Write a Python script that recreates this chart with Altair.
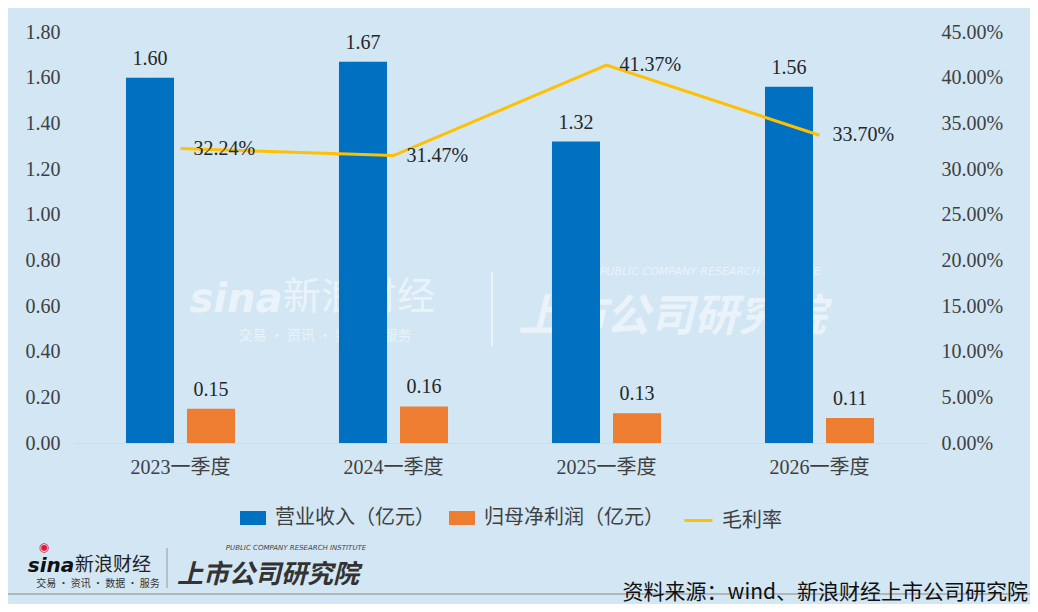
import altair as alt
import pandas as pd

# ---- datos ----
trimestres = ["2023一季度", "2024一季度", "2025一季度", "2026一季度"]
ingresos = [1.60, 1.67, 1.32, 1.56]          # 营业收入（亿元）
utilidad = [0.15, 0.16, 0.13, 0.11]          # 归母净利润（亿元）
margen = [0.3224, 0.3147, 0.4137, 0.3370]    # 毛利率
series_barras = ["营业收入（亿元）", "归母净利润（亿元）"]
ticks_izq = [0.0, 0.2, 0.4, 0.6, 0.8, 1.0, 1.2, 1.4, 1.6, 1.8]
ticks_der = [0.0, 0.05, 0.10, 0.15, 0.20, 0.25, 0.30, 0.35, 0.40, 0.45]

FUENTE_NUM = "'Liberation Serif', 'Noto Sans CJK SC'"
FUENTE_CJK = "'Noto Sans CJK SC'"
FONDO = "#D2E6F4"

df_barras = pd.DataFrame({
    "trimestre": trimestres * 2,
    "serie": [series_barras[0]] * 4 + [series_barras[1]] * 4,
    "valor": ingresos + utilidad,
})
df_linea = pd.DataFrame({
    "trimestre": trimestres,
    "serie": ["毛利率"] * 4,
    "margen": margen,
})

x_enc = alt.X(
    "trimestre:N", sort=trimestres, title=None,
    scale=alt.Scale(paddingInner=0, paddingOuter=0),
    axis=alt.Axis(labelFont=FUENTE_NUM, labelFontSize=20, labelColor="#404040",
                  domainColor="#D9D9D9", domainWidth=1, ticks=False,
                  labelPadding=14, labelAngle=0),
)
off_enc = alt.XOffset("serie:N", sort=series_barras,
                      scale=alt.Scale(paddingInner=0.213, paddingOuter=0.852))
y_izq = alt.Y(
    "valor:Q", title=None,
    scale=alt.Scale(domain=[0, 1.8], nice=False),
    axis=alt.Axis(values=ticks_izq, format=".2f", orient="left", grid=False,
                  domain=False, ticks=False, labelPadding=14,
                  labelFont=FUENTE_NUM, labelFontSize=20, labelColor="#404040"),
)
y_der = alt.Y(
    "margen:Q", title=None,
    scale=alt.Scale(domain=[0, 0.45], nice=False),
    axis=alt.Axis(values=ticks_der, format=".2%", orient="right", grid=False,
                  domain=False, ticks=False, labelPadding=15,
                  labelFont=FUENTE_NUM, labelFontSize=20, labelColor="#404040"),
)

barras = (
    alt.Chart(df_barras)
    .mark_bar()
    .encode(
        x=x_enc,
        xOffset=off_enc,
        y=y_izq,
        color=alt.Color(
            "serie:N",
            scale=alt.Scale(domain=series_barras, range=["#0070C0", "#ED7D31"]),
            legend=alt.Legend(
                title=None, orient="none", direction="horizontal",
                legendX=166, legendY=473,
                symbolType="M-1,-0.54L1,-0.54L1,0.54L-1,0.54Z", symbolSize=676,
                symbolStrokeWidth=0, labelOffset=9, columnPadding=14,
                labelFont=FUENTE_CJK, labelFontSize=20, labelColor="#404040",
                labelLimit=300,
            ),
        ),
    )
)
etiquetas_barras = (
    alt.Chart(df_barras)
    .mark_text(baseline="bottom", dy=-9, font=FUENTE_NUM, fontSize=20, color="#262626")
    .encode(x=x_enc, xOffset=off_enc, y=y_izq, text=alt.Text("valor:Q", format=".2f"))
)

linea = (
    alt.Chart(df_linea)
    .mark_line(strokeWidth=3)
    .encode(
        x=x_enc,
        y=y_der,
        stroke=alt.Stroke(
            "serie:N",
            scale=alt.Scale(domain=["毛利率"], range=["#FFC000"]),
            legend=alt.Legend(
                title=None, orient="none", direction="horizontal",
                legendX=609, legendY=473,
                symbolType="stroke", symbolSize=784, symbolStrokeWidth=3,
                labelOffset=8, labelFont=FUENTE_CJK, labelFontSize=20,
                labelColor="#404040",
            ),
        ),
    )
)
etiquetas_linea = (
    alt.Chart(df_linea)
    .mark_text(align="left", baseline="middle", dx=13, font=FUENTE_NUM,
               fontSize=20, color="#262626")
    .encode(x=x_enc, y=y_der, text=alt.Text("margen:Q", format=".2%"))
)


def texto(t, x, y, size, color, font=FUENTE_CJK, weight="normal", italic=False,
          opacity=1.0, align="center"):
    return (
        alt.Chart(pd.DataFrame({"t": [t]}))
        .mark_text(font=font, fontSize=size, color=color, fontWeight=weight,
                   fontStyle="italic" if italic else "normal", opacity=opacity,
                   align=align, baseline="middle")
        .encode(text="t:N", x=alt.value(x), y=alt.value(y))
    )


def regla(x, x2, y, y2, color, width=1, opacity=1.0):
    return (
        alt.Chart(pd.DataFrame({"a": [0]}))
        .mark_rule(color=color, strokeWidth=width, opacity=opacity)
        .encode(x=alt.value(x), x2=alt.value(x2), y=alt.value(y), y2=alt.value(y2))
    )


# marca de agua (detras de las barras)
marca = alt.layer(
    texto("sina", 162, 268, 40, "white", font="'DejaVu Sans'", weight="bold",
          italic=True, opacity=0.55),
    texto("新浪财经", 285, 266, 38, "white", opacity=0.55),
    texto("交易 · 资讯 · 数据 · 服务", 251, 304, 14, "white", opacity=0.55),
    regla(418, 418, 240, 314, "white", 2, 0.55),
    texto("PUBLIC COMPANY RESEARCH INSTITUTE", 636, 240, 11, "white",
          font="'DejaVu Sans'", italic=True, opacity=0.55),
    texto("上市公司研究院", 598, 286, 44, "white", weight="bold", italic=True,
          opacity=0.55),
)

# pie: logo, fuente y linea gris
pie = alt.layer(
    regla(-80, 960, 562, 562, "#A6A6A6", 1.5),
    texto("◉", -30, 515, 12, "#E6162D", font="'DejaVu Sans'"),
    texto("sina", -23, 534, 20, "#111111", font="'DejaVu Sans'", weight="bold",
          italic=True),
    texto("新浪财经", 39, 533, 19, "#222222"),
    texto("交易 · 资讯 · 数据 · 服务", 24, 552, 10, "#333333"),
    regla(93, 93, 516, 556, "#999999", 1),
    texto("PUBLIC COMPANY RESEARCH INSTITUTE", 222, 516, 7, "#444444",
          font="'DejaVu Sans'", italic=True),
    texto("上市公司研究院", 194, 543, 26, "#333333", weight="bold", italic=True),
    texto("资料来源：wind、新浪财经上市公司研究院", 954, 561, 21, "#111111",
          align="right"),
)

izquierda = alt.layer(barras, etiquetas_barras)
derecha = alt.layer(linea, etiquetas_linea)

chart = (
    alt.layer(marca, izquierda, derecha, pie)
    .resolve_scale(y="independent", color="independent", stroke="independent")
    .properties(
        width=852, height=411,
        autosize=alt.AutoSizeParams(type="none"),
        padding={"left": 66, "top": 24, "right": 104, "bottom": 161},
        background=FONDO,
    )
    .configure_view(stroke=None)
)

chart.save("out.html", embed_options={"renderer": "svg", "actions": False})
